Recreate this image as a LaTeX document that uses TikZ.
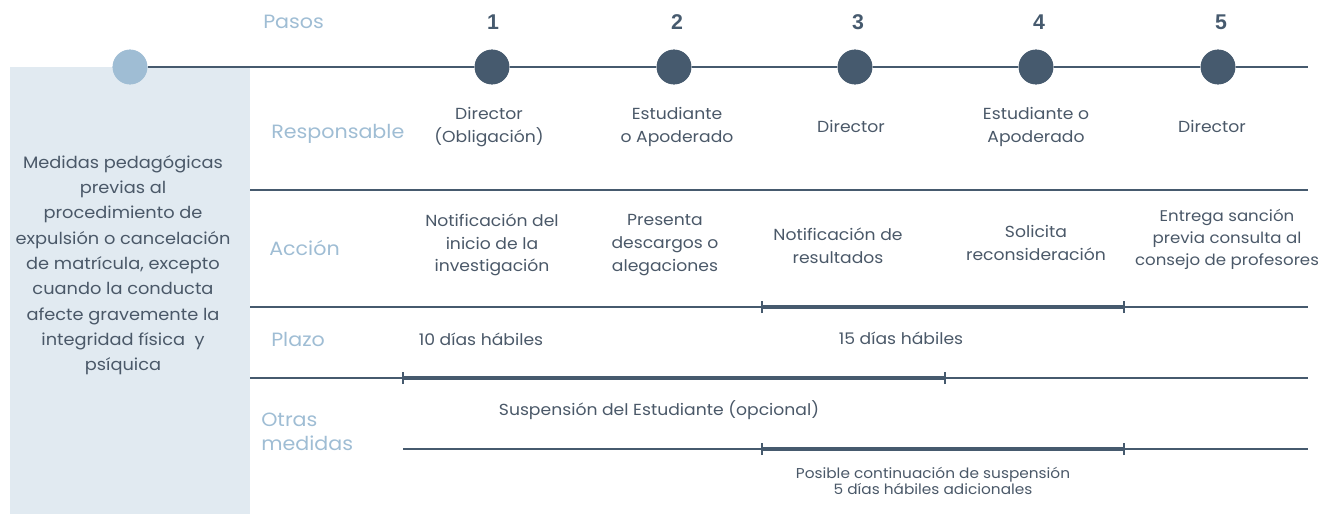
\documentclass[tikz,border=0pt]{standalone}
\usepackage{fontspec}
\setmainfont{Poppins}[FakeStretch=1.075]
\newfontfamily\numfont{Liberation Sans}
\definecolor{dk}{HTML}{465A6E}
\definecolor{lb}{HTML}{9FBDD4}
\definecolor{boxbg}{HTML}{E1EAF1}
\definecolor{txt}{HTML}{4A5868}
\tikzset{
  lbl/.style={text=lb,font=\fontsize{14.4}{16}\selectfont,inner sep=0pt},
  lblleft/.style={lbl,anchor=west,align=left},
  cell/.style={text=txt,font=\fontsize{12}{17}\selectfont,align=center,inner sep=0pt},
  num/.style={text=dk,font=\numfont\bfseries\fontsize{16}{18}\selectfont,inner sep=0pt},
  dot/.style={circle,fill=dk,minimum size=26pt,inner sep=0pt},
  ldot/.style={circle,fill=lb,minimum size=26pt,inner sep=0pt},
  rule/.style={draw=dk,line width=1.3pt},
  thick rule/.style={draw=dk,line width=2.6pt},
  tick/.style={draw=dk,line width=1.5pt}
}
\begin{document}
\begin{tikzpicture}[x=0.75pt,y=-0.75pt]
\useasboundingbox (0,0) rectangle (1324,514);
% left box
\fill[boxbg] (10,67) rectangle (250,514);
\node[cell,font=\fontsize{12.4}{19}\selectfont] (medidas) at (123,265) {Medidas pedagógicas\\previas al\\procedimiento de\\expulsión o cancelación\\de matrícula, excepto\\cuando la conducta\\afecte gravemente la\\integridad física \ y\\psíquica};
% top line and dots
\node[ldot] (d0) at (130,67) {};
\node[dot] (d1) at (492,67) {};
\node[dot] (d2) at (674,67) {};
\node[dot] (d3) at (855,67) {};
\node[dot] (d4) at (1036,67) {};
\node[dot] (d5) at (1218,67) {};
\coordinate (tend) at (1308,67);
\coordinate (tmid) at (250,67);
\draw[draw=dk,line width=2.2pt] (d0.east) -- (tmid);
\draw[rule] (tmid) -- (d1) -- (d2) -- (d3) -- (d4) -- (d5) -- (tend);
\node[ldot] at (d0) {};
\foreach \i in {1,...,5} {\node[dot] at (d\i) {};}
% numbers
\node[lbl,anchor=west] (pasos) at (263,22) {Pasos};
\node[num] (n1) at (493,22) {1};
\node[num] (n2) at (677,22) {2};
\node[num] (n3) at (858,22) {3};
\node[num] (n4) at (1039,22) {4};
\node[num] (n5) at (1221,22) {5};
% grid lines
\coordinate (a1) at (250,190); \coordinate (a2) at (1308,190);
\coordinate (b1) at (250,307); \coordinate (b2) at (1308,307);
\coordinate (c1) at (250,378); \coordinate (c2) at (1308,378);
\coordinate (e1) at (403,449); \coordinate (e2) at (1308,449);
\draw[rule] (a1) -- (a2);
\draw[rule] (b1) -- (b2);
\draw[rule] (c1) -- (c2);
\draw[rule] (e1) -- (e2);
% thick segments
\coordinate (p1) at (762,307); \coordinate (p2) at (1124,307);
\coordinate (q1) at (403,378); \coordinate (q2) at (945,378);
\coordinate (r1) at (762,449); \coordinate (r2) at (1124,449);
\foreach \s/\t in {p1/p2,q1/q2,r1/r2} {
  \draw[thick rule] (\s) -- (\t);
  \draw[tick] ([yshift=-4.5pt]\s) -- ([yshift=4.5pt]\s);
  \draw[tick] ([yshift=-4.5pt]\t) -- ([yshift=4.5pt]\t);
}
% row labels
\node[lblleft] (resp) at (271,134) {Responsable};
\node[lblleft] (acc) at (269,248) {Acción};
\node[lblleft] (plazo) at (271,339) {Plazo};
\node[lblleft,font=\fontsize{14.4}{18}\selectfont] (otras) at (261,432) {Otras\\medidas};
% responsable
\node[cell] (r1t) at (489,127) {Director\\(Obligación)};
\node[cell] (r2t) at (677,127) {Estudiante\\o Apoderado};
\node[cell] (r3t) at (851,126) {Director};
\node[cell] (r4t) at (1036,127) {Estudiante o\\Apoderado};
\node[cell] (r5t) at (1212,126) {Director};
% accion
\node[cell] (a1t) at (492,245) {Notificación del\\inicio de la\\investigación};
\node[cell] (a2t) at (665,245) {Presenta\\descargos o\\alegaciones};
\node[cell] (a3t) at (838,246) {Notificación de\\resultados};
\node[cell] (a4t) at (1036,243) {Solicita\\reconsideración};
\node[cell,font=\fontsize{11.6}{16.5}\selectfont] (a5t) at (1227,239) {Entrega sanción\\previa consulta al\\consejo de profesores};
% plazo
\node[cell] (pl1) at (481,339) {10 días hábiles};
\node[cell] (pl2) at (901,338) {15 días hábiles};
% otras
\node[cell] (om1) at (659,410) {Suspensión del Estudiante (opcional)};
\node[cell,font=\fontsize{10.7}{12.4}\selectfont] (om2) at (933,481) {Posible continuación de suspensión\\5 días hábiles adicionales};
\end{tikzpicture}
\end{document}
